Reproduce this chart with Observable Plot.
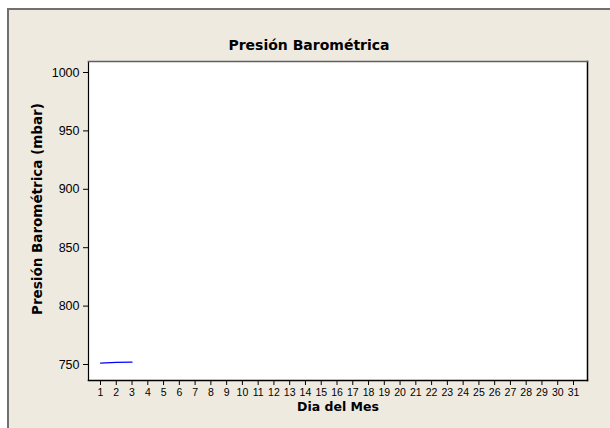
<!DOCTYPE html>
<html>
<head>
<meta charset="utf-8">
<script src="https://cdn.jsdelivr.net/npm/d3@7"></script>
<script src="https://cdn.jsdelivr.net/npm/@observablehq/plot@0.6"></script>
<style>
  html, body { margin: 0; padding: 0; background: #ffffff; }
  #wrap { position: relative; width: 610px; height: 428px; overflow: hidden; }
  #bg { position: absolute; left: 7px; top: 8px; width: 610px; height: 428px;
        background: #eeeae0; border-left: 2px solid #707070; border-top: 2px solid #707070; }
  #chart { position: absolute; left: 0; top: 0; }
  #chart svg { background: transparent; }
</style>
</head>
<body>
<div id="wrap"><div id="bg"></div><div id="chart"></div></div>
<script>
const titulo = "Presión Barométrica";
const etiquetaY = "Presión Barométrica (mbar)";
const etiquetaX = "Dia del Mes";
const dias = [1, 2, 3];
const presion = [751.2, 751.8, 752.0];
const ticksX = d3.range(1, 32);
const ticksY = [750, 800, 850, 900, 950, 1000];

const datos = dias.map((d, i) => ({dia: d, presion: presion[i]}));
const font = "'DejaVu Sans', sans-serif";
const tickFont = "'Liberation Sans', Arial, sans-serif";

const chart = Plot.plot({
  width: 610,
  height: 428,
  marginLeft: 88,
  marginRight: 23,
  marginTop: 61,
  marginBottom: 48,
  style: {fontFamily: font, fontSize: "12px", color: "#000", background: "transparent"},
  x: {domain: [1, 31], insetLeft: 12, insetRight: 14, label: null},
  y: {domain: [750, 1000], insetTop: 11, insetBottom: 16, label: null},
  marks: [
    Plot.frame({fill: "white", stroke: "none"}),
    Plot.axisX({ticks: ticksX, tickFormat: d => String(d), tickSize: 5, tickPadding: 3, label: null, fontSize: 10.5, fontFamily: tickFont}),
    Plot.axisY({ticks: ticksY, tickFormat: d => String(d), tickSize: 5, tickPadding: 4, label: null, fontSize: 12.5, fontFamily: tickFont}),
    Plot.frame({anchor: "bottom", stroke: "black", strokeWidth: 1.5}),
    Plot.frame({anchor: "right", stroke: "black", strokeWidth: 1.5}),
    Plot.frame({anchor: "left", stroke: "black", strokeWidth: 1.2}),
    Plot.frame({anchor: "top", stroke: "#606060", strokeWidth: 1.5}),
    Plot.line(datos, {x: "dia", y: "presion", stroke: "#0000ff", strokeWidth: 1.2}),
    Plot.text([titulo], {frameAnchor: "top", text: d => d, dy: -21, dx: -29, fontWeight: "bold", fontSize: 14}),
    Plot.text([etiquetaX], {frameAnchor: "bottom", text: d => d, dy: 30, fontWeight: "bold", fontSize: 12.5}),
    Plot.text([etiquetaY], {frameAnchor: "left", textAnchor: "middle", text: d => d, dx: -51, dy: -12, rotate: -90, fontWeight: "bold", fontSize: 13.5, letterSpacing: "0.6px"})
  ]
});
document.getElementById("chart").appendChild(chart);
</script>
</body>
</html>
